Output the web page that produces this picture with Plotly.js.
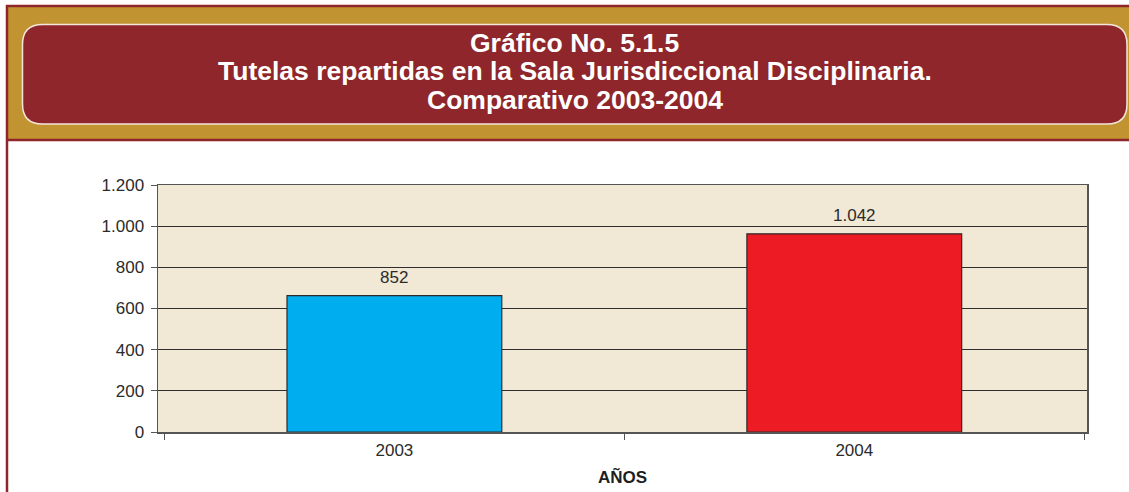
<!DOCTYPE html>
<html>
<head>
<meta charset="utf-8">
<script src="https://cdn.plot.ly/plotly-3.0.1.min.js"></script>
<style>
  html, body { margin: 0; padding: 0; background: #ffffff; }
  #chart { width: 1129px; height: 492px; }
</style>
</head>
<body>
<div id="chart"></div>
<script>
// ---- data ----
const categories = ['2003', '2004'];
const barHeights = [663, 963];          // drawn bar heights
const labelValues = [852, 1042];        // value labels printed above the bars
const barColors = ['#00AEEF', '#ED1C24'];
const yTickValues = [0, 200, 400, 600, 800, 1000, 1200];
const titleLines = ['Gráfico No. 5.1.5',
  'Tutelas repartidas en la Sala Jurisdiccional Disciplinaria.',
  'Comparativo 2003-2004'];
const xAxisTitle = 'AÑOS';

// ---- geometry helpers (pixel -> paper) ----
const W = 1129, H = 492;
const L = 158, R = 1087, T = 185, B = 432;
const px = x => (x - L) / (R - L);
const py = y => (B - y) / (B - T);

const FONT = 'Liberation Sans, Arial, Helvetica, sans-serif';
const RED = '#8E262B';
const GOLD = '#C19431';

function fmt(n) {
  return String(n).replace(/\B(?=(\d{3})+(?!\d))/g, '.');
}

function roundedRect(x0, y0, x1, y1, r) {
  const P = (x, y) => px(x) + ',' + py(y);
  return 'M' + P(x0 + r, y0) + ' L' + P(x1 - r, y0) +
    ' Q' + P(x1, y0) + ' ' + P(x1, y0 + r) +
    ' L' + P(x1, y1 - r) +
    ' Q' + P(x1, y1) + ' ' + P(x1 - r, y1) +
    ' L' + P(x0 + r, y1) +
    ' Q' + P(x0, y1) + ' ' + P(x0, y1 - r) +
    ' L' + P(x0, y0 + r) +
    ' Q' + P(x0, y0) + ' ' + P(x0 + r, y0) + ' Z';
}

const shapes = [
  { type: 'rect', xref: 'paper', yref: 'paper', layer: 'below',
    x0: px(7), x1: px(W), y0: py(139), y1: py(6),
    fillcolor: GOLD, line: { width: 0 } },
  { type: 'line', xref: 'paper', yref: 'paper', layer: 'below',
    x0: px(6), x1: px(W), y0: py(6), y1: py(6), line: { color: RED, width: 2.5 } },
  { type: 'line', xref: 'paper', yref: 'paper', layer: 'below',
    x0: px(6), x1: px(W), y0: py(140), y1: py(140), line: { color: RED, width: 2.5 } },
  { type: 'line', xref: 'paper', yref: 'paper', layer: 'below',
    x0: px(7), x1: px(7), y0: py(5), y1: py(H), line: { color: RED, width: 2.5 } },
  { type: 'path', xref: 'paper', yref: 'paper', layer: 'below',
    path: roundedRect(22.5, 24.5, 1127, 124, 20),
    fillcolor: RED, line: { color: '#F3E6DA', width: 1.5 } }
];

const titleY = [43, 71.5, 100];
const annotations = titleLines.map((t, i) => ({
  xref: 'paper', yref: 'paper', x: px(574.5), y: py(titleY[i]),
  xanchor: 'center', yanchor: 'middle', showarrow: false,
  text: '<b>' + t + '</b>', font: { family: FONT, size: 26.5, color: '#ffffff' }
})).concat(categories.map((c, i) => ({
  xref: 'x', yref: 'y', x: i, y: barHeights[i],
  xanchor: 'center', yanchor: 'bottom', yshift: 7, showarrow: false,
  text: fmt(labelValues[i]), font: { family: FONT, size: 17, color: '#2b2b2b' }
})));

const trace = {
  type: 'bar',
  x: categories,
  y: barHeights,
  width: 0.467,
  marker: { color: barColors, line: { color: '#2a2a2a', width: 1.2 } },
  hoverinfo: 'none'
};

const layout = {
  width: W, height: H,
  margin: { l: L, r: W - R, t: T, b: H - B, pad: 0 },
  paper_bgcolor: '#ffffff',
  plot_bgcolor: '#F1E8D6',
  separators: ',.',
  showlegend: false,
  font: { family: FONT, size: 17, color: '#2b2b2b' },
  xaxis: {
    type: 'category',
    range: [-0.514, 1.506],
    tickson: 'boundaries',
    ticks: 'outside', ticklen: 6, tickcolor: '#555', tickwidth: 1,
    showline: true, linecolor: '#555', linewidth: 1.5, mirror: true,
    showgrid: false,
    ticklabelstandoff: 2,
    tickfont: { family: FONT, size: 17, color: '#2b2b2b' },
    title: { text: '<b>' + xAxisTitle + '</b>', standoff: 12,
      font: { family: FONT, size: 17, color: '#1e1e1e' } },
    fixedrange: true
  },
  yaxis: {
    range: [0, 1200],
    tickvals: yTickValues,
    tickformat: ',',
    ticks: 'outside', ticklen: 6, tickcolor: '#555', tickwidth: 1,
    showline: true, linecolor: '#555', linewidth: 1.5, mirror: true,
    showgrid: true, gridcolor: '#2e2e2e', gridwidth: 1,
    zeroline: false,
    ticklabelstandoff: 3,
    tickfont: { family: FONT, size: 17, color: '#2b2b2b' },
    fixedrange: true
  },
  shapes: shapes,
  annotations: annotations
};

Plotly.newPlot('chart', [trace], layout, { displayModeBar: false, staticPlot: true });
</script>
</body>
</html>
